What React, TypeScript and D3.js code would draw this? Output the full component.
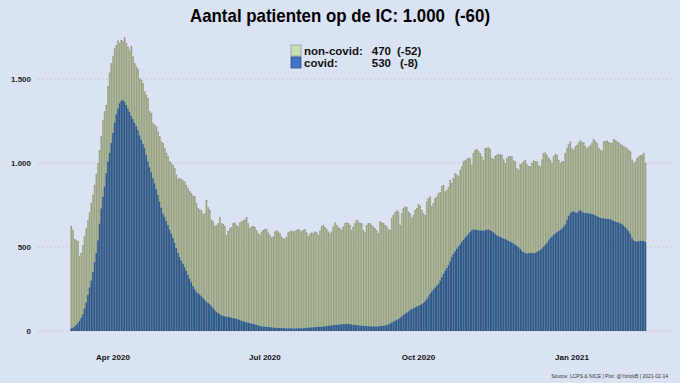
import React from "react";
import * as d3 from "d3";

const startDate = "2020-03-07";

// Total IC occupancy per day (covid + non-covid), from 2020-03-07
const totalIC = [
  625,602,548,540,535,445,465,512,565,612,
  660,705,760,810,870,935,1000,1077,1160,1255,
  1306,1345,1458,1537,1593,1633,1680,1702,1728,1714,
  1732,1722,1748,1712,1692,1669,1696,1633,1593,1573,
  1560,1504,1494,1474,1425,1405,1385,1306,1298,1238,
  1226,1216,1186,1157,1127,1119,1087,1060,1038,1010,
  998,985,968,930,903,911,903,895,889,869,
  849,830,819,805,800,760,730,722,716,695,
  700,780,735,720,661,651,625,631,640,677,
  641,637,625,571,595,611,617,641,645,631,
  621,645,651,657,662,677,640,610,621,625,
  618,600,581,571,590,601,605,605,585,570,
  555,561,591,597,591,580,560,550,546,560,
  585,591,597,591,595,601,605,598,591,601,
  605,585,565,577,585,581,591,585,571,597,
  621,631,617,605,591,581,591,621,645,631,
  617,611,601,621,641,645,641,631,601,620,
  641,661,651,641,641,600,585,631,641,641,
  631,620,611,598,581,651,645,641,631,621,
  605,601,671,690,705,716,710,631,700,730,
  740,736,710,700,671,690,720,730,756,745,
  720,700,690,770,790,800,744,760,790,800,
  819,825,863,869,829,839,855,899,880,910,
  938,930,918,958,980,1008,1015,1022,1030,1028,
  988,1060,1077,1081,1070,1058,1038,1018,1087,1090,
  1093,1080,1028,1022,1042,1048,1054,1050,1048,1020,
  998,1028,1038,1040,1038,1014,1008,968,958,990,
  998,1008,1018,990,982,978,1000,1014,1010,1008,
  985,978,1020,1058,1061,1048,1030,1018,998,1040,
  1054,1048,1018,998,1008,1010,1060,1087,1110,1127,
  1087,1077,1097,1107,1120,1133,1125,1121,1100,1087,
  1095,1107,1120,1141,1130,1117,1090,1077,1073,1127,
  1130,1133,1125,1117,1120,1141,1137,1127,1121,1110,
  1107,1097,1092,1087,1077,1067,1020,998,1008,1028,
  1038,1045,1048,1060,1000,
];

// Covid patients on the IC per day, from 2020-03-07
const covid = [
  16,20,28,36,48,60,80,100,135,170,
  215,260,300,350,410,465,540,640,730,800,
  860,940,1010,1060,1120,1180,1240,1290,1325,1355,
  1372,1375,1365,1345,1325,1305,1280,1262,1240,1220,
  1195,1165,1140,1115,1090,1050,1010,975,945,910,
  880,845,810,770,735,700,680,655,630,605,
  580,555,525,495,465,440,420,400,380,360,
  335,312,290,268,250,235,225,218,210,198,
  186,175,168,160,150,138,125,115,107,100,
  95,91,88,86,84,82,80,77,75,73,
  70,66,62,58,55,52,50,47,45,43,
  40,37,34,31,29,27,26,25,24,23,
  22,21,20,19,19,18,18,17,17,16,
  16,16,17,16,15,16,16,17,16,17,
  18,19,20,21,22,22,23,24,25,25,
  26,27,28,30,31,33,34,35,36,37,
  38,39,40,41,41,42,42,41,40,38,
  37,36,34,33,32,31,30,30,29,28,
  28,28,27,27,28,29,30,31,33,36,
  40,45,50,55,60,66,72,78,86,95,
  103,110,117,124,130,135,141,146,151,155,
  160,167,177,190,205,222,235,246,258,268,
  280,300,320,340,358,374,392,415,440,460,
  475,490,502,515,530,542,555,567,577,590,
  600,605,604,602,600,598,600,597,600,603,
  605,600,595,588,578,570,565,560,556,552,
  548,543,538,533,527,522,515,508,500,490,
  478,470,464,462,463,464,465,463,465,470,
  476,482,492,502,512,525,540,552,562,572,
  581,588,595,601,610,622,635,660,685,700,
  710,712,706,704,712,720,712,706,704,702,
  701,700,697,694,690,684,678,674,672,671,
  670,668,667,665,660,656,651,648,645,641,
  636,628,620,608,595,580,555,540,535,532,
  535,538,536,538,530,
];

const yTicks = [0, 500, 1000, 1500];
const yTickLabels = ["0", "500", "1.000", "1.500"];
const xTicks = ["2020-04-01", "2020-07-01", "2020-10-01", "2021-01-01"];
const xTickLabels = ["Apr 2020", "Jul 2020", "Oct 2020", "Jan 2021"];

const titleText = "Aantal patienten op de IC: 1.000  (-60)";
const legendLabels = ["non-covid:", "covid:"];
const legendValues = ["470", "530"];
const legendDeltas = ["(-52)", "(-8)"];
const sourceText = "Source: LCPS & NICE | Plot: @YorickB | 2021-02-14";

const W = 680;
const H = 383;
const FONT = "'Liberation Sans', Arial, Helvetica, sans-serif";

export default function App() {
  const parse = d3.utcParse("%Y-%m-%d");
  const start = parse(startDate) as Date;
  const x = d3
    .scaleUtc()
    .domain([parse("2020-04-01") as Date, parse("2021-01-01") as Date])
    .range([113, 572]);
  const y = d3.scaleLinear().domain([0, 1500]).range([331, 79]);
  const bw = x(d3.utcDay.offset(start, 1)) - x(start);

  const rows = totalIC.map((t, i) => {
    const date = d3.utcDay.offset(start, i);
    const c = covid[i];
    return { date, covid: c, nonCovid: t - c, total: t };
  });

  return (
    <svg
      width={W}
      height={H}
      style={{ position: "fixed", left: 0, top: 0, display: "block" }}
      fontFamily={FONT}
    >
      <rect x={0} y={0} width={W} height={H} fill="#dae3f3" />
      <text
        x={340}
        y={22}
        textAnchor="middle"
        fontSize={19}
        fontWeight="bold"
        fill="#000"
        textLength={300}
        lengthAdjust="spacingAndGlyphs"
        style={{ whiteSpace: "pre" }}
      >
        {titleText}
      </text>

      {yTicks.map((v, i) => (
        <g key={v}>
          <line
            x1={38}
            x2={674}
            y1={y(v)}
            y2={y(v)}
            stroke="#c4b6c0"
            strokeWidth={1}
            strokeDasharray="1.3 2.7"
          />
          <text
            x={31}
            y={y(v) + 3}
            textAnchor="end"
            fontSize={8}
            fontWeight="bold"
            fill="#262626"
          >
            {yTickLabels[i]}
          </text>
        </g>
      ))}

      {rows.map((r, i) => {
        const x0 = x(r.date) - bw / 2;
        const top = y(r.total);
        const mid = y(r.covid);
        return (
          <g key={i}>
            <rect x={x0} y={top} width={bw} height={mid - top} fill="#9ba086" />
            <rect
              x={x0}
              y={top + 0.6}
              width={0.3}
              height={Math.max(0, mid - top - 0.6)}
              fill="#acd193"
            />
            <rect x={x0} y={top} width={bw} height={0.5} fill="#968c8c" />
            <rect x={x0} y={mid} width={bw} height={y(0) - mid} fill="#2f5a87" />
          </g>
        );
      })}

      {xTicks.map((t, i) => (
        <text
          key={t}
          x={x(parse(t) as Date)}
          y={360}
          textAnchor="middle"
          fontSize={8}
          fontWeight="bold"
          fill="#111"
        >
          {xTickLabels[i]}
        </text>
      ))}

      <rect x={291} y={45} width={10} height={11} fill="#c5e0b4" stroke="#9a9a9a" strokeWidth={0.8} />
      <rect x={291} y={57} width={10} height={11} fill="#4472c4" stroke="#2f528f" strokeWidth={0.8} />
      {legendLabels.map((l, i) => (
        <g key={l} fontSize={11.5} fontWeight="bold" fill="#111">
          <text x={304} y={55 + i * 12}>{l}</text>
          <text x={391} y={55 + i * 12} textAnchor="end">{legendValues[i]}</text>
          <text x={i === 0 ? 397 : 400} y={55 + i * 12}>{legendDeltas[i]}</text>
        </g>
      ))}

      <text x={668} y={378} textAnchor="end" fontSize={5} fill="#333">
        {sourceText}
      </text>
    </svg>
  );
}
